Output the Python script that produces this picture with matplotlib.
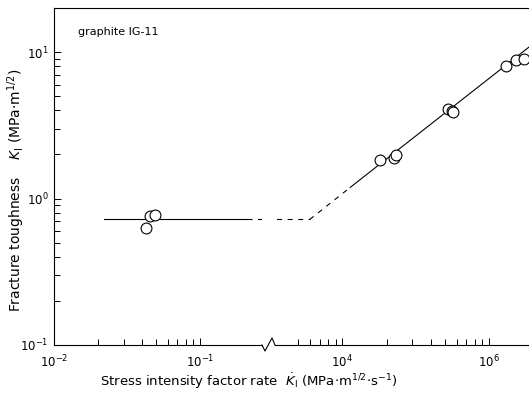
import matplotlib
matplotlib.use("Agg")
import matplotlib.pyplot as plt
from matplotlib.lines import Line2D
from matplotlib.ticker import FixedLocator, FixedFormatter, NullFormatter, LogLocator

# --- data (graphite IG-11) ---
rate_low = [0.0427, 0.0455, 0.0492]          # MPa m^1/2 s^-1
k_low = [0.634, 0.765, 0.778]                # MPa m^1/2
rate_high = [1.82e4, 2.24e4, 2.31e4, 5.24e4, 5.58e4, 5.66e4, 1.31e5, 1.53e5, 1.74e5]
k_high = [1.84, 1.90, 1.99, 4.09, 3.97, 3.91, 8.03, 8.82, 8.96]

# trend line pieces
k_plateau = 0.72
plateau_solid_x = [0.022, 0.21]
plateau_dash_x_low = [0.21, 0.3]
plateau_dash_x_high = [3000, 6000]
rise_dash_x = [6000, 1.13e4]
rise_dash_k = [0.72, 1.19]
rise_solid_x = [1.13e4, 2.0e5]
rise_solid_k = [1.19, 11.4]

xticks_low = [1e-2, 1e-1]
xticklabels_low = ["$10^{-2}$", "$10^{-1}$"]
xticks_high = [1e4, 1e5]
xticklabels_high = ["$10^{4}$", "$10^{6}$"]
yticks = [0.1, 1, 10]
yticklabels = ["$10^{-1}$", "$10^{0}$", "$10^{1}$"]

W, H = 529, 396
plt.rcParams["font.family"] = ["DejaVu Sans"]
plt.rcParams["mathtext.fontset"] = "dejavusans"

fig = plt.figure(figsize=(W / 100, H / 100), dpi=100)

# broken x axis: two log axes side by side
ax_l = fig.add_axes([54 / W, 1 - 345 / H, (262 - 54) / W, (345 - 8) / H])
ax_r = fig.add_axes([275 / W, 1 - 345 / H, (529 - 275) / W + 0.01, (345 - 8) / H])

for ax in (ax_l, ax_r):
    ax.set_xscale("log")
    ax.set_yscale("log")
    ax.set_ylim(0.1, 20)
    for s in ax.spines.values():
        s.set_linewidth(0.8)
    ax.tick_params(which="both", direction="in", width=0.7, labelsize=8.5, pad=6)
    ax.tick_params(which="major", length=5)
    ax.tick_params(which="minor", length=4)

ax_l.set_xlim(0.01, 10 ** (-2 + 208 / 146))
ax_r.set_xlim(10 ** (4 - 67 / 146), 10 ** (4 + 191 / 146))

ax_l.xaxis.set_major_locator(FixedLocator(xticks_low))
ax_l.xaxis.set_major_formatter(FixedFormatter(xticklabels_low))
ax_l.xaxis.set_minor_locator(FixedLocator([m * 0.01 for m in range(2, 10)]))
ax_l.xaxis.set_minor_formatter(NullFormatter())

ax_r.xaxis.set_major_locator(FixedLocator(xticks_high))
ax_r.xaxis.set_major_formatter(FixedFormatter(xticklabels_high))
ax_r.xaxis.set_minor_locator(FixedLocator([m * 1e3 for m in range(5, 10)] + [m * 1e4 for m in range(2, 10)]))
ax_r.xaxis.set_minor_formatter(NullFormatter())

ax_l.yaxis.set_major_locator(FixedLocator(yticks))
ax_l.yaxis.set_major_formatter(FixedFormatter(yticklabels))
ax_l.yaxis.set_minor_locator(LogLocator(base=10, subs=range(2, 10)))
ax_l.yaxis.set_minor_formatter(NullFormatter())
ax_l.tick_params(axis="y", pad=4)

ax_r.tick_params(axis="y", which="both", left=False, labelleft=False)
ax_l.spines["right"].set_visible(False)
ax_r.spines["left"].set_visible(False)
ax_r.spines["right"].set_visible(False)

# trend lines
lw = 0.8
dash = (0, (4.5, 5))
ax_l.plot(plateau_solid_x, [k_plateau] * 2, color="k", lw=lw)
ax_l.plot(plateau_dash_x_low, [k_plateau] * 2, color="k", lw=lw, linestyle=dash)
ax_r.plot(plateau_dash_x_high, [k_plateau] * 2, color="k", lw=lw, linestyle=dash)
ax_r.plot(rise_dash_x, rise_dash_k, color="k", lw=lw, linestyle=dash)
ax_r.plot(rise_solid_x, rise_solid_k, color="k", lw=lw)

# data points
mk = dict(marker="o", linestyle="none", markersize=7.8, markerfacecolor="white",
          markeredgecolor="k", markeredgewidth=0.8, zorder=3, clip_on=False)
ax_l.plot(rate_low, k_low, **mk)
ax_r.plot(rate_high, k_high, **mk)

ax_l.text(0.115, 0.929, "graphite IG-11", transform=ax_l.transAxes, va="center", fontsize=8)

# axis break symbol and top spine link
fig.add_artist(Line2D([262 / W, 265 / W, 272 / W, 275 / W],
                      [1 - 345 / H, 1 - 351 / H, 1 - 338 / H, 1 - 345 / H],
                      transform=fig.transFigure, color="k", lw=0.8))
fig.add_artist(Line2D([262 / W, 275 / W], [1 - 8 / H, 1 - 8 / H],
                      transform=fig.transFigure, color="k", lw=0.8))

fig.text(0.47, 1 - 381 / H,
         r"Stress intensity factor rate  $\dot{K}_{\mathrm{I}}$ (MPa$\cdot$m$^{1/2}$$\cdot$s$^{-1}$)",
         ha="center", va="center", fontsize=9.5)
fig.text(0.03, 1 - 190 / H,
         r"Fracture toughness    $K_{\mathrm{I}}$ (MPa$\cdot$m$^{1/2}$)",
         ha="center", va="center", rotation=90, fontsize=10)

fig.savefig("out.png", dpi=100)
